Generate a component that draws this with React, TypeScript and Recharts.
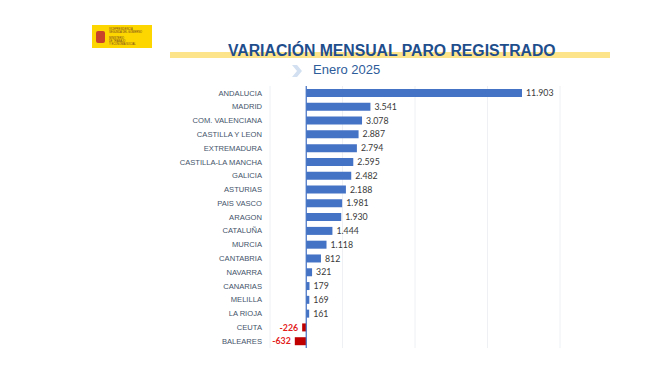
import React from "react";
import {
  Bar,
  BarChart,
  CartesianGrid,
  Cell,
  LabelList,
  ReferenceLine,
  XAxis,
  YAxis,
} from "recharts";

const regions = [
  "ANDALUCIA",
  "MADRID",
  "COM. VALENCIANA",
  "CASTILLA Y LEON",
  "EXTREMADURA",
  "CASTILLA-LA MANCHA",
  "GALICIA",
  "ASTURIAS",
  "PAIS VASCO",
  "ARAGON",
  "CATALUÑA",
  "MURCIA",
  "CANTABRIA",
  "NAVARRA",
  "CANARIAS",
  "MELILLA",
  "LA RIOJA",
  "CEUTA",
  "BALEARES",
];
const variation = [
  11903, 3541, 3078, 2887, 2794, 2595, 2482, 2188, 1981, 1930, 1444, 1118, 812,
  321, 179, 169, 161, -226, -632,
];
const xTicks = [-2000, 0, 2000, 4000, 6000, 8000, 10000, 12000, 14000];

const chartData = regions.map((name, i) => ({ name, value: variation[i] }));

const fmt = (v: number) => {
  const s = Math.abs(v)
    .toString()
    .replace(/\B(?=(\d{3})+(?!\d))/g, ".");
  return v < 0 ? "-" + s : s;
};

const ValueLabel = (props: any) => {
  const { x, y, width, height, value } = props;
  const left = Math.min(x, x + width);
  const right = Math.max(x, x + width);
  const neg = value < 0;
  return (
    <text
      x={neg ? left - 4 : right + 4}
      y={y + height / 2}
      dy="0.35em"
      textAnchor={neg ? "end" : "start"}
      fontSize={8.8}
      fontFamily="Lato, sans-serif"
      fontWeight={neg ? 700 : 400}
      fill={neg ? "#e31c1c" : "#3a3a3a"}
    >
      {fmt(value)}
    </text>
  );
};

export default function App() {
  return (
    <div
      style={{
        position: "absolute",
        left: 0,
        top: 0,
        width: 659,
        height: 371,
        background: "#fff",
        fontFamily: "'Liberation Sans', Arial, sans-serif",
      }}
    >
      {/* logo */}
      <div
        style={{
          position: "absolute",
          left: 92,
          top: 25,
          width: 60,
          height: 23,
          background: "#fdd600",
        }}
      >
        <div
          style={{
            position: "absolute",
            left: 4,
            top: 6,
            width: 9,
            height: 12,
            background: "#c8412b",
            borderRadius: 2,
          }}
        />
        <div
          style={{
            position: "absolute",
            left: 17,
            top: 3,
            fontSize: 2.6,
            lineHeight: "3px",
            color: "#6b3a20",
            whiteSpace: "nowrap",
          }}
        >
          VICEPRESIDENCIA
          <br />
          SEGUNDA DEL GOBIERNO
          <br />
          <br />
          MINISTERIO
          <br />
          DE TRABAJO
          <br />Y ECONOMÍA SOCIAL
        </div>
      </div>
      {/* title band */}
      <div
        style={{
          position: "absolute",
          left: 170,
          top: 52,
          width: 440,
          height: 6,
          background: "#fde38a",
        }}
      />
      <div
        style={{
          position: "absolute",
          left: 228,
          top: 42,
          fontSize: 15.8,
          fontWeight: 700,
          color: "#1f4e8c",
          whiteSpace: "nowrap",
          letterSpacing: -0.02,
        }}
      >
        VARIACIÓN MENSUAL PARO REGISTRADO
      </div>
      {/* subtitle */}
      <svg
        style={{ position: "absolute", left: 290, top: 63 }}
        width={14}
        height={16}
      >
        <polygon points="2,2 7,2 12,8 7,14 2,14 7,8" fill="#d3e0f1" />
      </svg>
      <div
        style={{
          position: "absolute",
          left: 313,
          top: 62,
          fontSize: 13,
          color: "#2e5c9a",
          whiteSpace: "nowrap",
        }}
      >
        Enero 2025
      </div>
      <div style={{ position: "absolute", left: 0, top: 0 }}>
        <BarChart
          width={659}
          height={371}
          data={chartData}
          layout="vertical"
          margin={{ top: 86, right: 99, bottom: 23, left: 0 }}
        >
          <CartesianGrid
            horizontal={false}
            stroke="#eef0f4"
            strokeWidth={1}
          />
          <XAxis
            type="number"
            domain={[-2000, 14000]}
            ticks={xTicks}
            hide
          />
          <YAxis
            type="category"
            dataKey="name"
            width={270}
            axisLine={false}
            tickLine={false}
            interval={0}
            tick={{
              fontSize: 7.6,
              fill: "#44546a",
              fontFamily: "'Liberation Sans', Arial, sans-serif",
            }}
          />
          <ReferenceLine x={0} stroke="#4472c4" strokeWidth={1.2} />
          <Bar dataKey="value" barSize={8} isAnimationActive={false}>
            {chartData.map((d) => (
              <Cell key={d.name} fill={d.value < 0 ? "#c00000" : "#4472c4"} />
            ))}
            <LabelList dataKey="value" content={ValueLabel} />
          </Bar>
        </BarChart>
      </div>
    </div>
  );
}
